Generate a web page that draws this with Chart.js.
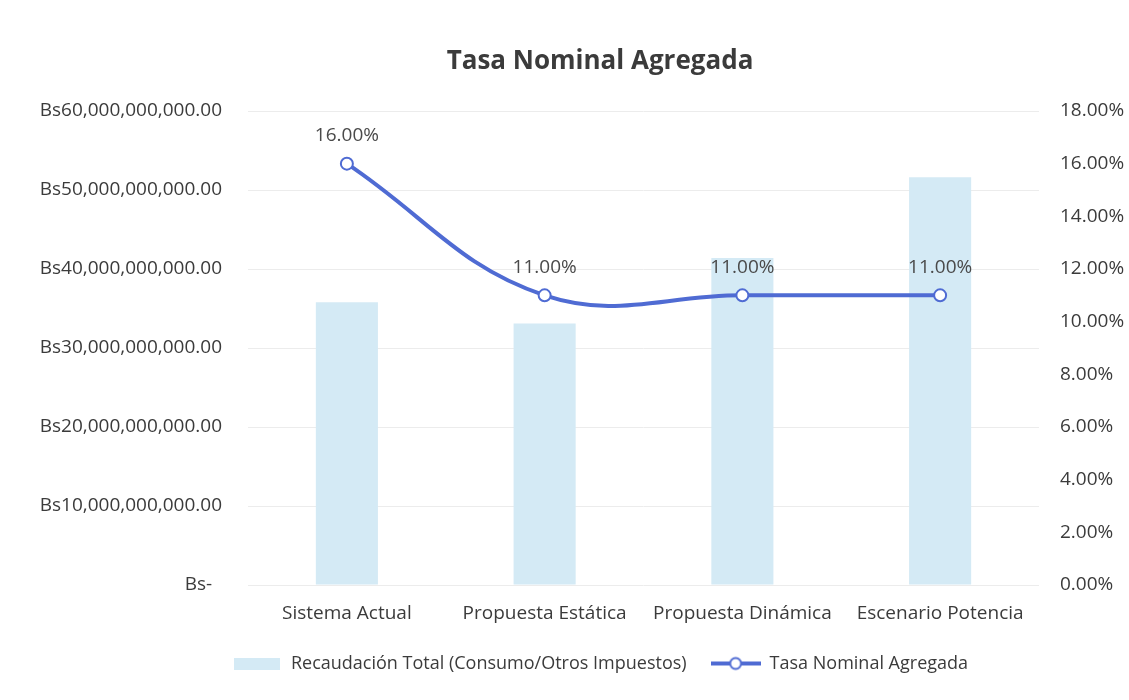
<!DOCTYPE html>
<html>
<head>
<meta charset="utf-8">
<script src="https://cdn.jsdelivr.net/npm/chart.js@4/dist/chart.umd.min.js"></script>
<style>
  body { margin: 0; background: #fff; overflow: hidden; }
  #wrap { width: 1129px; height: 700px; overflow: hidden; }
</style>
</head>
<body>
<div id="wrap">
<canvas id="myChart" width="1200" height="700"></canvas>
</div>
<script>
var categorias = ['Sistema Actual', 'Propuesta Estática', 'Propuesta Dinámica', 'Escenario Potencia']
var recaudacion = [35.8e9, 33.1e9, 41.4e9, 51.6e9]
var tasaNominal = [16, 11, 11, 11]

var barColor = '#d4eaf5'
var lineColor = '#4f6bd3'

Chart.defaults.font.family = "'Open Sans', sans-serif"
Chart.defaults.font.size = 19
Chart.defaults.color = '#3b3b3b'

// legend swatches that look like the excel ones
function barSwatch(){
    let c = document.createElement('canvas')
    c.width = 46; c.height = 12
    let g = c.getContext('2d')
    g.fillStyle = barColor
    g.fillRect(0, 0, 46, 12)
    return c
}
function lineSwatch(){
    let c = document.createElement('canvas')
    c.width = 50; c.height = 16
    let g = c.getContext('2d')
    g.strokeStyle = lineColor
    g.lineWidth = 4
    g.beginPath(); g.moveTo(0, 8); g.lineTo(50, 8); g.stroke()
    g.beginPath(); g.arc(25, 8, 5.5, 0, Math.PI * 2)
    g.fillStyle = '#fff'; g.fill()
    g.lineWidth = 2; g.stroke()
    return c
}

var pointLabels = {
    id: 'pointLabels',
    afterDatasetsDraw(chart){
        let meta = chart.getDatasetMeta(1)
        let ctx = chart.ctx
        ctx.save()
        ctx.font = "19px 'Open Sans', sans-serif"
        ctx.fillStyle = '#4a4a4a'
        ctx.textAlign = 'center'
        ctx.textBaseline = 'middle'
        meta.data.forEach(function(pt, i){
            ctx.fillText(tasaNominal[i].toFixed(2) + '%', pt.x, pt.y - 28)
        })
        ctx.restore()
    }
}

let myChart1 = document.getElementById("myChart").getContext('2d');
let chart1 = new Chart(myChart1, {
    type: 'bar',
    data: {
        labels: categorias,
        datasets: [{
            label: 'Recaudación Total (Consumo/Otros Impuestos)',
            data: recaudacion,
            backgroundColor: barColor,
            yAxisID: 'y',
            order: 2,
            barPercentage: 0.314,
            categoryPercentage: 1
        }, {
            type: 'line',
            label: 'Tasa Nominal Agregada',
            data: tasaNominal,
            borderColor: lineColor,
            borderWidth: 4,
            tension: 0.4,
            pointRadius: 6,
            pointBorderWidth: 2,
            pointBackgroundColor: '#fff',
            pointBorderColor: lineColor,
            yAxisID: 'y1',
            order: 1
        }]
    },
    options: {
        responsive: false,
        animation: false,
        layout: { padding: { left: 0, right: 0, top: 0, bottom: 17.5 } },
        plugins: {
            title: {
                display: true,
                text: 'Tasa Nominal Agregada',
                font: { size: 26, weight: 'bold' },
                color: '#3b3b3b',
                padding: { top: 46, bottom: 33.8 }
            },
            legend: {
                position: 'bottom',
                labels: {
                    usePointStyle: true,
                    pointStyleWidth: 50,
                    padding: 24,
                    font: { size: 18 },
                    color: '#3b3b3b',
                    sort: function(a, b){ return a.datasetIndex - b.datasetIndex },
                    generateLabels: function(chart){
                        let items = Chart.defaults.plugins.legend.labels.generateLabels(chart)
                        return items.map(function(it){
                            it.pointStyle = it.datasetIndex === 0 ? barSwatch() : lineSwatch()
                            return it
                        })
                    }
                }
            },
            tooltip: { enabled: false }
        },
        scales: {
            x: {
                grid: { display: false, drawTicks: false },
                border: { display: false },
                ticks: { padding: 17 },
                afterFit: function(s){ s.height = 45.5 }
            },
            y: {
                position: 'left',
                min: 0,
                max: 60e9,
                ticks: {
                    stepSize: 10e9,
                    padding: 26,
                    callback: function(v){
                        if (v === 0) return 'Bs-  '
                        return 'Bs' + v.toLocaleString('en-US', { minimumFractionDigits: 2, maximumFractionDigits: 2 })
                    }
                },
                grid: { color: '#ececec', drawTicks: false },
                border: { display: false },
                afterFit: function(s){ s.width = 248 }
            },
            y1: {
                position: 'right',
                min: 0,
                max: 18,
                ticks: {
                    stepSize: 2,
                    padding: 21,
                    callback: function(v){ return v.toFixed(2) + '%' }
                },
                grid: { display: false, drawTicks: false },
                border: { display: false },
                afterFit: function(s){ s.width = 161 }
            }
        }
    },
    plugins: [pointLabels]
});
</script>
</body>
</html>
